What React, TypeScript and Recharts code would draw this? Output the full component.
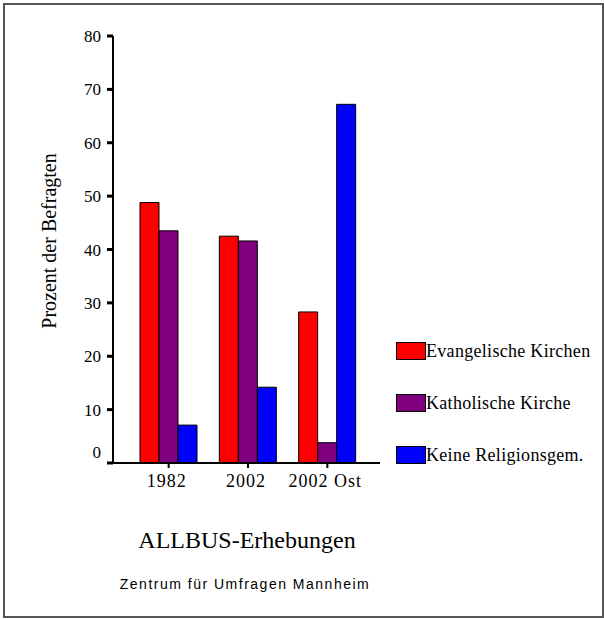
import { BarChart, Bar, XAxis, YAxis, Legend } from 'recharts';

const categories = ['1982', '2002', '2002 Ost'];
const evangelisch = [48.8, 42.5, 28.3];
const katholisch = [43.5, 41.6, 3.8];
const keine = [7.1, 14.2, 67.2];
const yTicks = [0, 10, 20, 30, 40, 50, 60, 70, 80];

const series = [
  { key: 'evangelisch', name: 'Evangelische Kirchen', color: '#ff0000' },
  { key: 'katholisch', name: 'Katholische Kirche', color: '#800080' },
  { key: 'keine', name: 'Keine Religionsgem.', color: '#0000ff' },
];

const data = categories.map((c, i) => ({
  cat: c,
  evangelisch: evangelisch[i],
  katholisch: katholisch[i],
  keine: keine[i],
}));

const serif = '"Liberation Serif", "DejaVu Serif", serif';

function YTick(props: any) {
  const { x, y, payload } = props;
  // the zero label sits a little above its tick in the original
  const dy = payload.value === 0 ? -11 : 0;
  return (
    <text x={x - 4} y={y + dy} dy={6} textAnchor="end" fontFamily={serif} fontSize={17} fill="#000">
      {payload.value}
    </text>
  );
}

function XTick(props: any) {
  const { x, y, payload } = props;
  return (
    <text
      x={x - 2}
      y={y}
      dy={17}
      textAnchor="middle"
      fontFamily={serif}
      fontSize={18}
      letterSpacing={1}
      fill="#000"
    >
      {payload.value}
    </text>
  );
}

function renderLegend() {
  return (
    <div>
      {series.map((s) => (
        <div key={s.key} style={{ display: 'flex', alignItems: 'center', height: 52 }}>
          <div style={{ width: 28, height: 16, background: s.color, border: '1px solid #000' }} />
          <span style={{ fontFamily: serif, fontSize: 18, letterSpacing: 0.3, color: '#000' }}>{s.name}</span>
        </div>
      ))}
    </div>
  );
}

export default function App() {
  return (
    <div style={{ position: 'absolute', left: 0, top: 0, width: 604, height: 619, background: '#fff' }}>
      <div
        style={{
          position: 'absolute',
          left: 3,
          top: 3,
          width: 597,
          height: 611,
          border: '2px solid #555',
        }}
      />
      <BarChart
        width={604}
        height={619}
        data={data}
        margin={{ top: 36, right: 224, bottom: 126, left: 53 }}
        barSize={19}
        barGap={0}
      >
        <XAxis
          dataKey="cat"
          height={30}
          padding={{ left: 16, right: 13 }}
          axisLine={{ stroke: '#000', strokeWidth: 2 }}
          tickLine={{ stroke: '#000', strokeWidth: 2 }}
          tickSize={5}
          tick={<XTick />}
        />
        <YAxis
          width={60}
          domain={[0, 80]}
          ticks={yTicks}
          interval={0}
          axisLine={{ stroke: '#000', strokeWidth: 2 }}
          tickLine={{ stroke: '#000', strokeWidth: 3 }}
          tickSize={6}
          tick={<YTick />}
          label={{
            content: () => (
              <text
                x={56}
                y={241}
                transform="rotate(-90 56 241)"
                textAnchor="middle"
                fontFamily={serif}
                fontSize={20}
                fill="#000"
              >
                Prozent der Befragten
              </text>
            ),
          }}
        />
        <Legend
          layout="horizontal"
          verticalAlign="middle"
          align="center"
          content={renderLegend}
          wrapperStyle={{ left: 396, top: 325, width: 210 }}
        />
        {series.map((s) => (
          <Bar
            key={s.key}
            dataKey={s.key}
            name={s.name}
            fill={s.color}
            stroke="#000"
            strokeWidth={1}
            isAnimationActive={false}
          />
        ))}
      </BarChart>
      <div
        style={{
          position: 'absolute',
          left: 0,
          width: 494,
          top: 527,
          textAlign: 'center',
          fontFamily: serif,
          fontSize: 24,
          color: '#000',
        }}
      >
        ALLBUS-Erhebungen
      </div>
      <div
        style={{
          position: 'absolute',
          left: 0,
          width: 490,
          top: 576,
          textAlign: 'center',
          fontFamily: '"Liberation Sans", Arial, sans-serif',
          fontSize: 14,
          letterSpacing: 1.5,
          color: '#000',
        }}
      >
        Zentrum für Umfragen Mannheim
      </div>
    </div>
  );
}
